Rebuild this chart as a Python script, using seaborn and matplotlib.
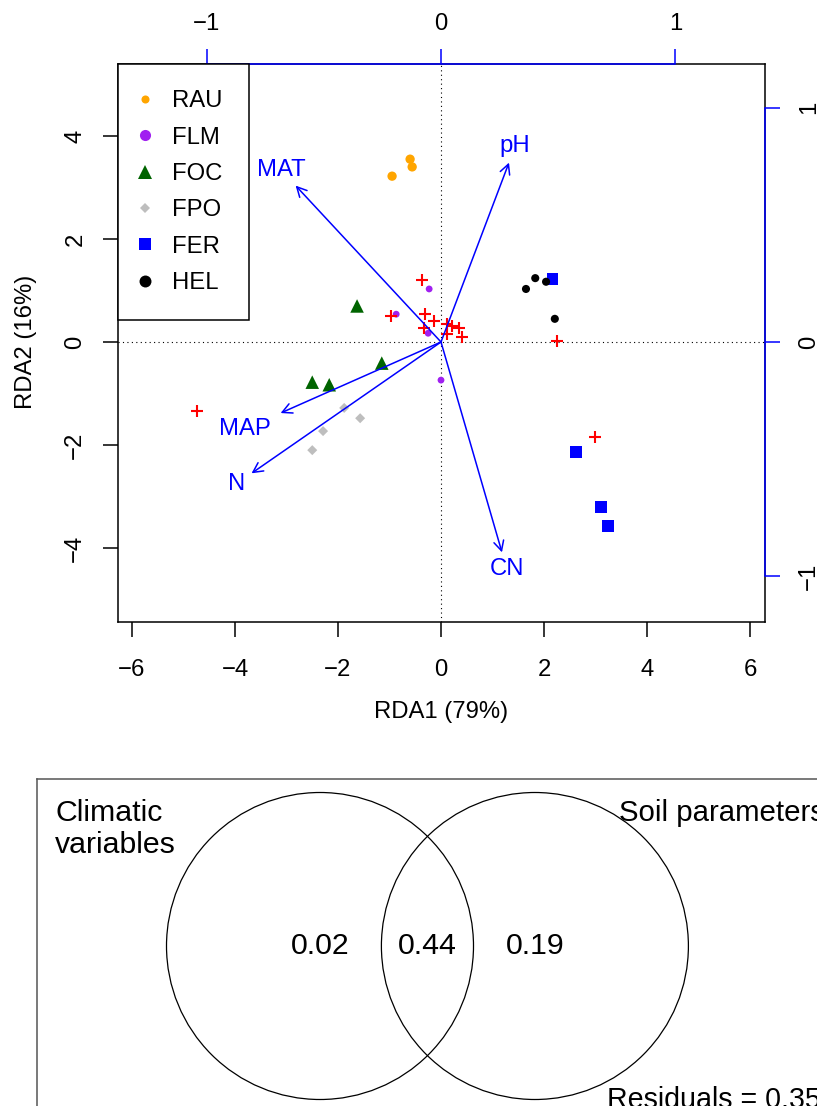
import numpy as np
import pandas as pd
import matplotlib
matplotlib.use("Agg")
import matplotlib.pyplot as plt
import seaborn as sns
from matplotlib.lines import Line2D
from matplotlib.patches import Circle

# ---------------- data ----------------
groups = ["RAU", "FLM", "FOC", "FPO", "FER", "HEL"]
rau_x = [-0.95, -0.60, -0.56]
rau_y = [3.22, 3.55, 3.40]
flm_x = [-0.23, -0.87, -0.25, 0.00]
flm_y = [1.03, 0.54, 0.17, -0.74]
foc_x = [-1.63, -2.50, -2.17, -1.15]
foc_y = [0.70, -0.78, -0.83, -0.41]
fpo_x = [-1.88, -1.57, -2.29, -2.50]
fpo_y = [-1.28, -1.48, -1.73, -2.10]
fer_x = [2.17, 2.62, 3.11, 3.24]
fer_y = [1.22, -2.14, -3.20, -3.57]
hel_x = [1.83, 2.04, 1.65, 2.21]
hel_y = [1.24, 1.17, 1.03, 0.45]

spp_x = [-4.74, -0.37, -0.97, -0.31, -0.14, -0.33, 0.12, 0.21, 0.35, 0.12, 0.41, 2.25, 2.99]
spp_y = [-1.34, 1.20, 0.50, 0.54, 0.41, 0.27, 0.35, 0.31, 0.27, 0.16, 0.10, 0.02, -1.84]

env_vars = ["MAT", "pH", "MAP", "N", "CN"]
env_x = [-0.620, 0.290, -0.684, -0.808, 0.260]   # biplot (top/right axis) scale
env_y = [0.667, 0.765, -0.303, -0.560, -0.897]
biplot_mult = 4.553

x_ticks = [-6, -4, -2, 0, 2, 4, 6]
y_ticks = [-4, -2, 0, 2, 4]
bi_ticks = [-1, 0, 1]
xlabel = "RDA1 (79%)"
ylabel = "RDA2 (16%)"

venn_names = ["Climatic\nvariables", "Soil parameters"]
venn_fracs = [0.02, 0.44, 0.19]
venn_resid = 0.35

# ---------------- styling ----------------
palette = {"RAU": "#FFA500", "FLM": "#A020F0", "FOC": "#006400",
           "FPO": "#BEBEBE", "FER": "#0000FF", "HEL": "#000000"}
markers = {"RAU": "o", "FLM": "o", "FOC": "^", "FPO": "D", "FER": "s", "HEL": "o"}
sizes = {"RAU": 45, "FLM": 24, "FOC": 95, "FPO": 26, "FER": 68, "HEL": 34}
leg_sizes = {"RAU": 5.8, "FLM": 8.0, "FOC": 10.0, "FPO": 4.8, "FER": 8.2, "HEL": 8.6}
label_factor = {"MAT": 1.10, "pH": 1.09, "MAP": 1.22, "N": 1.08, "CN": 1.08}

sns.set_style("white")
plt.rcParams["font.family"] = ["Liberation Sans", "DejaVu Sans"]
plt.rcParams.update({"text.color": "black", "axes.labelcolor": "black",
                     "xtick.color": "black", "ytick.color": "black"})
FS = 17.2

W, H = 817, 1106
fig = plt.figure(figsize=(W / 100, H / 100), dpi=100)

# main RDA axes (pixel geometry)
L, R, T, B = 118, 765, 64, 622
x0px, y0px, ppu = 441, 342, 51.5
ax = fig.add_axes([L / W, 1 - B / H, (R - L) / W, (B - T) / H])
ax.set_xlim((L - x0px) / ppu, (R - x0px) / ppu)
ax.set_ylim((y0px - B) / ppu, (y0px - T) / ppu)

frames = []
for g, xs, ys in [("RAU", rau_x, rau_y), ("FLM", flm_x, flm_y), ("FOC", foc_x, foc_y),
                  ("FPO", fpo_x, fpo_y), ("FER", fer_x, fer_y), ("HEL", hel_x, hel_y)]:
    frames.append(pd.DataFrame({"RDA1": xs, "RDA2": ys, "group": g}))
df = pd.concat(frames, ignore_index=True)

ax.axhline(0, color="black", lw=0.8, ls=(0, (1, 3)), zorder=1)
ax.axvline(0, color="black", lw=0.8, ls=(0, (1, 3)), zorder=1)

sns.scatterplot(data=df, x="RDA1", y="RDA2", hue="group", style="group", size="group",
                hue_order=groups, style_order=groups, size_order=groups,
                palette=palette, markers=markers, sizes=sizes, linewidth=0,
                legend=False, ax=ax, zorder=3)
sns.scatterplot(x=spp_x, y=spp_y, marker="+", color="#FF0000", s=70, linewidth=1.5,
                legend=False, ax=ax, zorder=4)

for name, ex, ey in zip(env_vars, env_x, env_y):
    tx, ty = ex * biplot_mult, ey * biplot_mult
    ax.annotate("", xy=(tx, ty), xytext=(0, 0),
                arrowprops=dict(arrowstyle="->,head_length=0.35,head_width=0.18",
                                color="#0000FF", lw=1.1, shrinkA=0, shrinkB=0,
                                mutation_scale=20), zorder=5)
    f = label_factor[name]
    ax.text(f * tx, f * ty, name, color="#0000FF", fontsize=FS,
            ha="center", va="center", zorder=5)

ax.set_xticks(x_ticks)
ax.set_yticks(y_ticks)
ax.set_xlabel("")
ax.set_ylabel("")
ax.tick_params(axis="both", direction="out", length=10.8, width=1.1, labelsize=FS,
               color="black", labelcolor="black", bottom=True, left=True)
ax.tick_params(axis="x", pad=15.5)
ax.tick_params(axis="y", pad=12, labelrotation=90)
for t in ax.get_yticklabels():
    t.set_va("center")
for s in ax.spines.values():
    s.set_color("black")
    s.set_linewidth(1.1)

# top biplot axis
axt = ax.twiny()
axt.set_xlim(np.array(ax.get_xlim()) / biplot_mult)
axt.set_xticks(bi_ticks)
for k in ["left", "right", "bottom"]:
    axt.spines[k].set_visible(False)
axt.spines["top"].set_bounds(-1, 1)
axt.spines["top"].set_color("#0000FF")
axt.spines["top"].set_linewidth(1.1)
axt.tick_params(axis="x", direction="out", length=10.8, width=1.1, color="#0000FF",
                labelcolor="black", labelsize=FS, pad=10, top=True)

# right biplot axis
axr = ax.twinx()
axr.set_ylim(np.array(ax.get_ylim()) / biplot_mult)
axr.set_yticks(bi_ticks)
for k in ["left", "top", "bottom"]:
    axr.spines[k].set_visible(False)
axr.spines["right"].set_bounds(-1, 1)
axr.spines["right"].set_color("#0000FF")
axr.spines["right"].set_linewidth(1.1)
axr.tick_params(axis="y", direction="out", length=10.8, width=1.1, color="#0000FF",
                labelcolor="black", labelsize=FS, pad=13, right=True, labelrotation=90)
for t in axr.get_yticklabels():
    t.set_va("center")

handles = [Line2D([], [], ls="none", marker=markers[g], color=palette[g],
                  markersize=leg_sizes[g], markeredgewidth=0) for g in groups]
leg = axr.legend(handles, groups, loc="upper left", bbox_to_anchor=(0, 1),
                 bbox_transform=ax.transAxes, borderaxespad=0, frameon=True,
                 fancybox=False, edgecolor="black", framealpha=1, fontsize=FS,
                 handlelength=0.1, handletextpad=1.08, borderpad=1.1,
                 labelspacing=0.6)
leg.get_frame().set_linewidth(1.1)
leg.set_zorder(10)

fig.text(441 / W, 1 - 712 / H, xlabel, fontsize=FS, ha="center", va="center")
fig.text(26 / W, 1 - 342 / H, ylabel, fontsize=FS, ha="center", va="center", rotation=90)

# ---------------- Venn panel ----------------
vx0, vy0, vppu, vcx, vcy = 37, 779, 153.5, 320, 946
vw, vh = 900, 450
axv = fig.add_axes([vx0 / W, 1 - (vy0 + vh) / H, vw / W, vh / H])
axv.set_xlim((vx0 - vcx) / vppu, (vx0 + vw - vcx) / vppu)
axv.set_ylim((vcy - vy0 - vh) / vppu, (vcy - vy0) / vppu)
axv.set_xticks([])
axv.set_yticks([])
for s in axv.spines.values():
    s.set_color("#555555")
    s.set_linewidth(1.1)
for cx in [0.0, 1.4]:
    axv.add_patch(Circle((cx, 0), 1.0, fill=False, ec="black", lw=0.9))
VFS = 21.8
for xpos, val in zip([0.0, 0.7, 1.4], venn_fracs):
    axv.text(xpos, 0, f"{val:.2f}", fontsize=VFS, ha="center", va="center")
axv.text(-1.726, 0.96, venn_names[0], fontsize=VFS, ha="left", va="top", linespacing=1.2)
axv.text(1.945, 0.96, venn_names[1], fontsize=21.2, ha="left", va="top")
axv.text(1.87, -0.91, f"Residuals = {venn_resid:.2f}", fontsize=20.6, ha="left", va="top")

fig.savefig("out.png", dpi=100)
